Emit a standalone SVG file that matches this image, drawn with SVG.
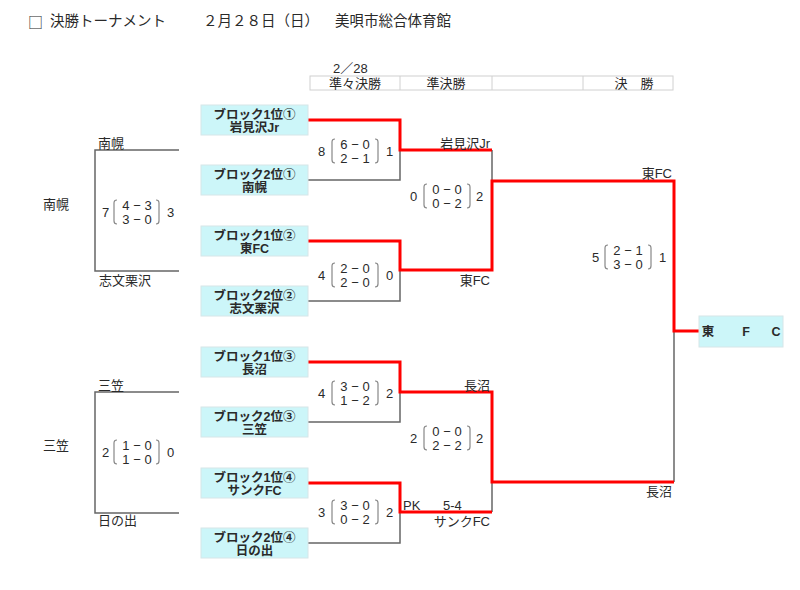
<svg xmlns="http://www.w3.org/2000/svg" xmlns:xlink="http://www.w3.org/1999/xlink" width="800" height="590" viewBox="0 0 800 590">
<style>
text{font-family:"Liberation Sans","Noto Sans CJK JP",sans-serif;fill:#2a2a2a;dominant-baseline:central}
.t{font-size:14.5px}
.sq{font-family:"Noto Sans CJK JP",sans-serif;font-size:15px}
.h{font-size:13px;text-anchor:middle}
.lbl{font-size:13px}
.r{text-anchor:end}
.box rect{fill:#ccf6f9;stroke:#d6e6e8;stroke-width:1}
.box text{font-size:12.5px;font-weight:bold;text-anchor:middle}
.sc text{font-size:13px}
.sc .m{text-anchor:middle}
.br{fill:none;stroke:#888;stroke-width:1.2}
.g{fill:none;stroke:#666;stroke-width:1.5}
.red{fill:none;stroke:#ff0000;stroke-width:3}
.tbl{fill:none;stroke:#d0d0d0;stroke-width:1}
</style>
<defs>
<path id="lb" class="br" d="M3,-12 Q0,-12 0,-9 L0,9 Q0,12 3,12"/>
<path id="rb" class="br" d="M-3,-12 Q0,-12 0,-9 L0,9 Q0,12 -3,12"/>
</defs>
<rect width="800" height="590" fill="#fff"/>

<g id="title">
<text class="sq" x="28" y="21">□</text>
<text class="t" x="50" y="21">決勝トーナメント</text>
<text class="t" x="203" y="21">２月２８日（日）</text>
<text class="t" x="335" y="21">美唄市総合体育館</text>
</g>

<g id="header">
<text class="lbl" x="333" y="68">2／28</text>
<rect class="tbl" x="310" y="76" width="363" height="14"/>
<line class="tbl" x1="400" y1="76" x2="400" y2="90"/>
<line class="tbl" x1="492" y1="76" x2="492" y2="90"/>
<line class="tbl" x1="583" y1="76" x2="583" y2="90"/>
<text class="h" x="355" y="83">準々決勝</text>
<text class="h" x="446" y="83">準決勝</text>
<text class="h" x="634" y="83">決　勝</text>
</g>

<g id="connectors">
<polyline class="g" points="179,150 95,150 95,271 179,271"/>
<polyline class="g" points="179,392 95,392 95,513 179,513"/>
<polyline class="g" points="308,180 400,180 400,150"/>
<polyline class="g" points="308,301 400,301 400,270"/>
<polyline class="g" points="308,422 400,422 400,392"/>
<polyline class="g" points="308,543 400,543 400,512"/>
<line class="g" x1="492" y1="150" x2="492" y2="181"/>
<line class="g" x1="492" y1="482" x2="492" y2="512"/>
<line class="g" x1="674" y1="331" x2="674" y2="482"/>
<polyline class="red" points="308,120 400,120 400,150 492,150"/>
<polyline class="red" points="308,241 400,241 400,270 492,270 492,181 674,181 674,331 699,331"/>
<polyline class="red" points="308,362 400,362 400,392 492,392 492,482 674,482"/>
<polyline class="red" points="308,483 400,483 400,512 492,512"/>
</g>

<g id="box1" class="box"><rect x="201" y="105" width="107" height="30"/><text x="254.5" y="115">ブロック1位①</text><text x="254.5" y="128">岩見沢Jr</text></g>
<g id="box2" class="box"><rect x="201" y="165" width="107" height="30"/><text x="254.5" y="175">ブロック2位①</text><text x="254.5" y="188">南幌</text></g>
<g id="box3" class="box"><rect x="201" y="226" width="107" height="30"/><text x="254.5" y="236">ブロック1位②</text><text x="254.5" y="249">東FC</text></g>
<g id="box4" class="box"><rect x="201" y="286" width="107" height="30"/><text x="254.5" y="296">ブロック2位②</text><text x="254.5" y="309">志文栗沢</text></g>
<g id="box5" class="box"><rect x="201" y="347" width="107" height="30"/><text x="254.5" y="357">ブロック1位③</text><text x="254.5" y="370">長沼</text></g>
<g id="box6" class="box"><rect x="201" y="407" width="107" height="30"/><text x="254.5" y="417">ブロック2位③</text><text x="254.5" y="430">三笠</text></g>
<g id="box7" class="box"><rect x="201" y="468" width="107" height="30"/><text x="254.5" y="478">ブロック1位④</text><text x="254.5" y="491">サンクFC</text></g>
<g id="box8" class="box"><rect x="201" y="528" width="107" height="30"/><text x="254.5" y="538">ブロック2位④</text><text x="254.5" y="551">日の出</text></g>
<g id="champion" class="box"><rect x="699" y="316" width="84" height="31"/><text x="708" y="332">東</text><text x="746" y="332">F</text><text x="776" y="332">C</text></g>

<g id="labels">
<text class="lbl" x="98" y="143">南幌</text>
<text class="lbl" x="99" y="280">志文栗沢</text>
<text class="lbl" x="43" y="204">南幌</text>
<text class="lbl" x="98" y="385">三笠</text>
<text class="lbl" x="98" y="520">日の出</text>
<text class="lbl" x="43" y="445">三笠</text>
<text class="lbl r" x="490" y="143">岩見沢Jr</text>
<text class="lbl r" x="490" y="280">東FC</text>
<text class="lbl r" x="490" y="385">長沼</text>
<text class="lbl r" x="490" y="521">サンクFC</text>
<text class="lbl" x="403" y="505">PK</text>
<text class="lbl" x="443" y="505">5-4</text>
<text class="lbl r" x="672" y="173">東FC</text>
<text class="lbl r" x="672" y="491">長沼</text>
</g>

<g id="scores" class="sc">
<g transform="translate(102,212)"><text x="0" y="0">7</text><use xlink:href="#lb" x="12"/><text class="m" x="35" y="-7">4 − 3</text><text class="m" x="35" y="7">3 − 0</text><use xlink:href="#rb" x="57"/><text x="65" y="0">3</text></g>
<g transform="translate(102,452)"><text x="0" y="0">2</text><use xlink:href="#lb" x="12"/><text class="m" x="35" y="-7">1 − 0</text><text class="m" x="35" y="7">1 − 0</text><use xlink:href="#rb" x="57"/><text x="65" y="0">0</text></g>
<g transform="translate(318,151)"><text x="0" y="0">8</text><use xlink:href="#lb" x="14"/><text class="m" x="37" y="-7">6 − 0</text><text class="m" x="37" y="7">2 − 1</text><use xlink:href="#rb" x="60"/><text x="68" y="0">1</text></g>
<g transform="translate(318,275)"><text x="0" y="0">4</text><use xlink:href="#lb" x="14"/><text class="m" x="37" y="-7">2 − 0</text><text class="m" x="37" y="7">2 − 0</text><use xlink:href="#rb" x="60"/><text x="68" y="0">0</text></g>
<g transform="translate(318,393)"><text x="0" y="0">4</text><use xlink:href="#lb" x="14"/><text class="m" x="37" y="-7">3 − 0</text><text class="m" x="37" y="7">1 − 2</text><use xlink:href="#rb" x="60"/><text x="68" y="0">2</text></g>
<g transform="translate(318,512)"><text x="0" y="0">3</text><use xlink:href="#lb" x="14"/><text class="m" x="37" y="-7">3 − 0</text><text class="m" x="37" y="7">0 − 2</text><use xlink:href="#rb" x="60"/><text x="68" y="0">2</text></g>
<g transform="translate(410,196)"><text x="0" y="0">0</text><use xlink:href="#lb" x="14"/><text class="m" x="37" y="-7">0 − 0</text><text class="m" x="37" y="7">0 − 2</text><use xlink:href="#rb" x="60"/><text x="66" y="0">2</text></g>
<g transform="translate(410,438)"><text x="0" y="0">2</text><use xlink:href="#lb" x="14"/><text class="m" x="37" y="-7">0 − 0</text><text class="m" x="37" y="7">2 − 2</text><use xlink:href="#rb" x="60"/><text x="66" y="0">2</text></g>
<g transform="translate(592,257)"><text x="0" y="0">5</text><use xlink:href="#lb" x="13"/><text class="m" x="36" y="-7">2 − 1</text><text class="m" x="36" y="7">3 − 0</text><use xlink:href="#rb" x="59"/><text x="67" y="0">1</text></g>
</g>
</svg>
